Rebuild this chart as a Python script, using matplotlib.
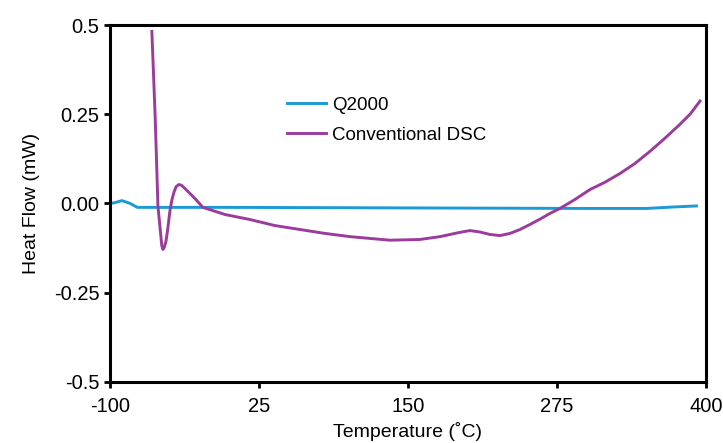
import matplotlib.pyplot as plt

plt.rcParams["font.family"] = ["Liberation Sans", "DejaVu Sans"]
plt.rcParams["axes.unicode_minus"] = False

# Q2000 trace (temperature in C, heat flow in mW)
q2000_temp = [-100, -96, -90, -83, -77, 0, 100, 200, 300, 350, 372, 392]
q2000_flow = [0.0, 0.002, 0.008, 0.0, -0.011, -0.011, -0.012, -0.013, -0.014, -0.014, -0.010, -0.007]

# conventional DSC trace
conv_temp = [-64.8, -62.0, -59.7, -57.2, -56.5, -55.5, -54.5, -53.0, -51.5, -49.7,
             -48.0, -46.3, -44.5, -42.1, -40.0, -37.1, -28.7, -22.0, -3.5, 17.4,
             38.4, 59.4, 80.4, 101.3, 118.0, 134.9, 160.0, 176.8, 193.6, 202.0,
             210.4, 218.8, 227.2, 235.6, 244.0, 252.3, 260.7, 269.1, 277.5, 290.0,
             302.7, 315.0, 327.9, 340.4, 353.0, 365.6, 378.2, 386.6, 395.0]
conv_flow = [0.482, 0.24, -0.008, -0.093, -0.118, -0.129, -0.124, -0.107, -0.072, -0.022,
             0.010, 0.031, 0.047, 0.053, 0.051, 0.042, 0.014, -0.011, -0.031, -0.045,
             -0.062, -0.073, -0.084, -0.093, -0.098, -0.103, -0.101, -0.093, -0.081, -0.076,
             -0.080, -0.087, -0.090, -0.084, -0.073, -0.059, -0.044, -0.028, -0.014, 0.011,
             0.039, 0.059, 0.084, 0.112, 0.146, 0.183, 0.222, 0.250, 0.287]

x_ticks = [-100, 25, 150, 275, 400]
y_ticks = [-0.5, -0.25, 0.0, 0.25, 0.5]
y_tick_labels = ["-0.5", "-0.25", "0.00", "0.25", "0.5"]

fig = plt.figure(figsize=(7.23, 4.43), dpi=100)
ax = fig.add_axes([0.152, 0.138, 0.8245, 0.8055])

ax.plot(q2000_temp, q2000_flow, color="#1b9ad6", linewidth=2.1, label="Q2000")
ax.plot(conv_temp, conv_flow, color="#9c3b9c", linewidth=2.1, label="Conventional DSC")

ax.set_xlim(-100, 400)
ax.set_ylim(-0.5, 0.5)
ax.set_xticks(x_ticks)
ax.set_yticks(y_ticks)
ax.set_yticklabels(y_tick_labels)
ax.tick_params(direction="out", length=4.5, width=2, labelsize=14.5, colors="black")
ax.tick_params(axis="x", pad=6.5)
ax.tick_params(axis="y", pad=3)
for spine in ax.spines.values():
    spine.set_linewidth(2.2)

ax.set_xlabel("Temperature (˚C)", fontsize=14, labelpad=4)
ax.set_ylabel("Heat Flow (mW)", fontsize=14, labelpad=10)

ax.legend(loc="upper left", bbox_to_anchor=(0.297, 0.80), frameon=False,
          fontsize=13.5, borderpad=0, borderaxespad=0, handlelength=2.1,
          handletextpad=0.3, labelspacing=0.7)

fig.savefig("out.png", dpi=100)
